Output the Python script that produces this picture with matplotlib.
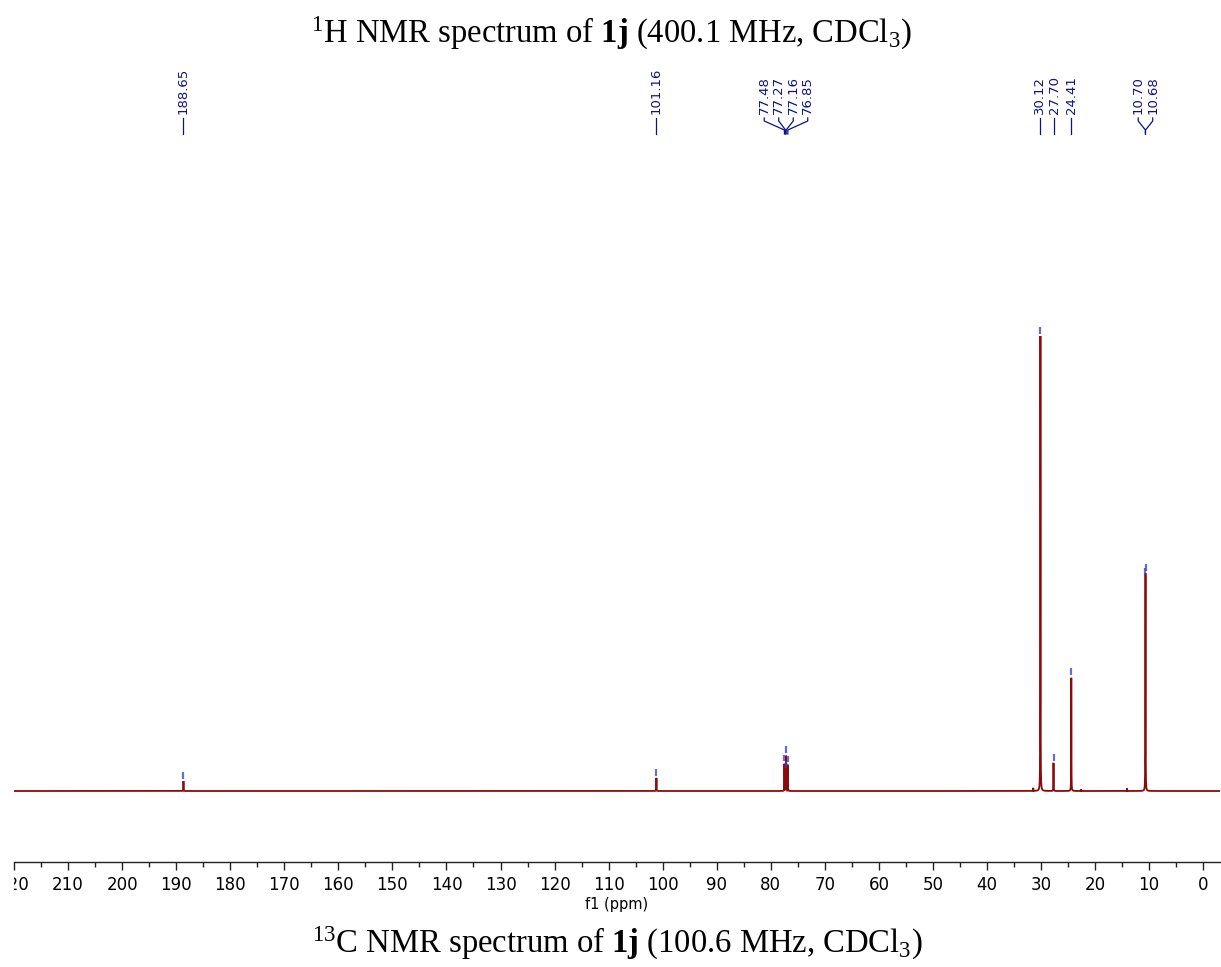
import numpy as np
import matplotlib
matplotlib.use("Agg")
import matplotlib.pyplot as plt
from matplotlib.lines import Line2D
from matplotlib.transforms import Bbox, TransformedBbox

# 13C peak list (ppm) and relative intensities (tallest = 1)
peak_ppm = [188.65, 101.16, 77.48, 77.27, 77.16, 76.85, 30.12, 27.70, 24.41, 10.70, 10.68]
peak_height = [0.022, 0.029, 0.060, 0.045, 0.078, 0.058, 1.000, 0.062, 0.250, 0.470, 0.479]

# minor unlabelled signals
minor_ppm = [31.45, 22.6, 14.1]
minor_height = [0.007, 0.004, 0.006]

# axis ticks
major_ticks = list(range(0, 221, 10))
minor_ticks = list(range(5, 221, 10))

X_LEFT, X_RIGHT = 220.0, -3.1
LINE_COLOR = "#8b0a0a"
MARK_COLOR = "#3a3ac8"
LABEL_COLOR = "#10108a"

plt.rcParams["mathtext.fontset"] = "custom"
plt.rcParams["mathtext.rm"] = "Liberation Serif"
plt.rcParams["mathtext.it"] = "Liberation Serif:italic"
plt.rcParams["mathtext.bf"] = "Liberation Serif:bold"

W, H = 1221, 967
fig = plt.figure(figsize=(W / 100, H / 100), dpi=100)
ax_bottom_px, ax_top_px = 862, 140
ax = fig.add_axes([14 / W, 1 - ax_bottom_px / H, (1220 - 14) / W, (ax_bottom_px - ax_top_px) / H])

# spectrum: envelope of narrow Lorentzian lines
ppm = np.linspace(X_LEFT, X_RIGHT, 80000)
fwhm = 0.04
spec = np.zeros_like(ppm)
for p, h in zip(peak_ppm + minor_ppm, peak_height + minor_height):
    g = (fwhm / 2) ** 2
    spec = np.maximum(spec, h * g / ((ppm - p) ** 2 + g))

ax.plot(ppm, spec, color=LINE_COLOR, lw=1.3, solid_joinstyle="miter")

px_per_unit = 455.0
baseline_px = 791
ax.set_xlim(X_LEFT, X_RIGHT)
ax.set_ylim(-(ax_bottom_px - baseline_px) / px_per_unit, (baseline_px - ax_top_px) / px_per_unit)

# peak-pick markers
for p, h in zip(peak_ppm, peak_height):
    ax.plot([p, p], [h + 0.005, h + 0.020], color=MARK_COLOR, lw=1.6, alpha=0.75,
            solid_capstyle="butt")

for s in ("top", "left", "right"):
    ax.spines[s].set_visible(False)
ax.spines["bottom"].set_color("#222222")
ax.spines["bottom"].set_linewidth(1.0)
ax.set_yticks([])
ax.set_xticks(major_ticks)
ax.set_xticklabels([str(t) for t in major_ticks])
ax.set_xticks(minor_ticks, minor=True)
ax.tick_params(axis="x", which="major", direction="out", length=6, width=1,
               labelsize=12, pad=4, color="#222222")
ax.tick_params(axis="x", which="minor", direction="out", length=3.5, width=1, color="#222222")
ax.set_xlabel("f1 (ppm)", fontsize=10.5, labelpad=2)

# tick labels are cut at the left edge of the plot
clip = TransformedBbox(Bbox([[14 / W, 0], [1, 1]]), fig.transFigure)
for lab in ax.get_xticklabels():
    lab.set_clip_box(clip)
    lab.set_clip_on(True)

# peak labels with connectors, spread to avoid overlap
fig.canvas.draw()
to_px = ax.transData.transform
peak_px = [to_px((p, 0))[0] for p in peak_ppm]
order = np.argsort(peak_px)
xs = np.array(peak_px)[order]
gap = 14.5
clusters = [[i] for i in range(len(xs))]


def spread(c):
    n = len(c)
    m = np.mean(xs[c])
    return [m + (k - (n - 1) / 2) * gap for k in range(n)]


changed = True
while changed:
    changed = False
    new = [clusters[0]]
    for c in clusters[1:]:
        if spread(c)[0] - spread(new[-1])[-1] < gap:
            new[-1] = new[-1] + c
            changed = True
        else:
            new.append(c)
    clusters = new

label_px = np.empty(len(xs))
for c in clusters:
    for k, x in zip(c, spread(c)):
        label_px[k] = x

y_text = 114
y_a, y_b, y_c, y_d = 118, 121, 130, 134
for idx_sorted, i in enumerate(order):
    xl = label_px[idx_sorted]
    xp = peak_px[i]
    fig.text(xl / W, 1 - y_text / H, f"{peak_ppm[i]:.2f}", rotation=90, ha="center",
             va="bottom", fontsize=9.5, color=LABEL_COLOR, family="DejaVu Sans")
    if abs(xl - xp) < 0.8:
        xs_line = [xl, xl]
        ys_line = [y_a, y_d]
    else:
        xs_line = [xl, xl, xp, xp]
        ys_line = [y_a, y_b, y_c, y_d]
    fig.add_artist(Line2D([x / W for x in xs_line], [1 - y / H for y in ys_line],
                          transform=fig.transFigure, color=LABEL_COLOR, lw=0.9))

title_kw = dict(ha="center", va="baseline", fontsize=23.5, family="Liberation Serif")
fig.text(612 / W, 1 - 43 / H,
         r"$^{1}$H NMR spectrum of $\mathbf{1j}$ (400.1 MHz, CDCl$_{3}$)", **title_kw)
fig.text(617 / W, 1 - 953 / H,
         r"$^{13}$C NMR spectrum of $\mathbf{1j}$ (100.6 MHz, CDCl$_{3}$)", **title_kw)

fig.savefig("out.png", dpi=100)
